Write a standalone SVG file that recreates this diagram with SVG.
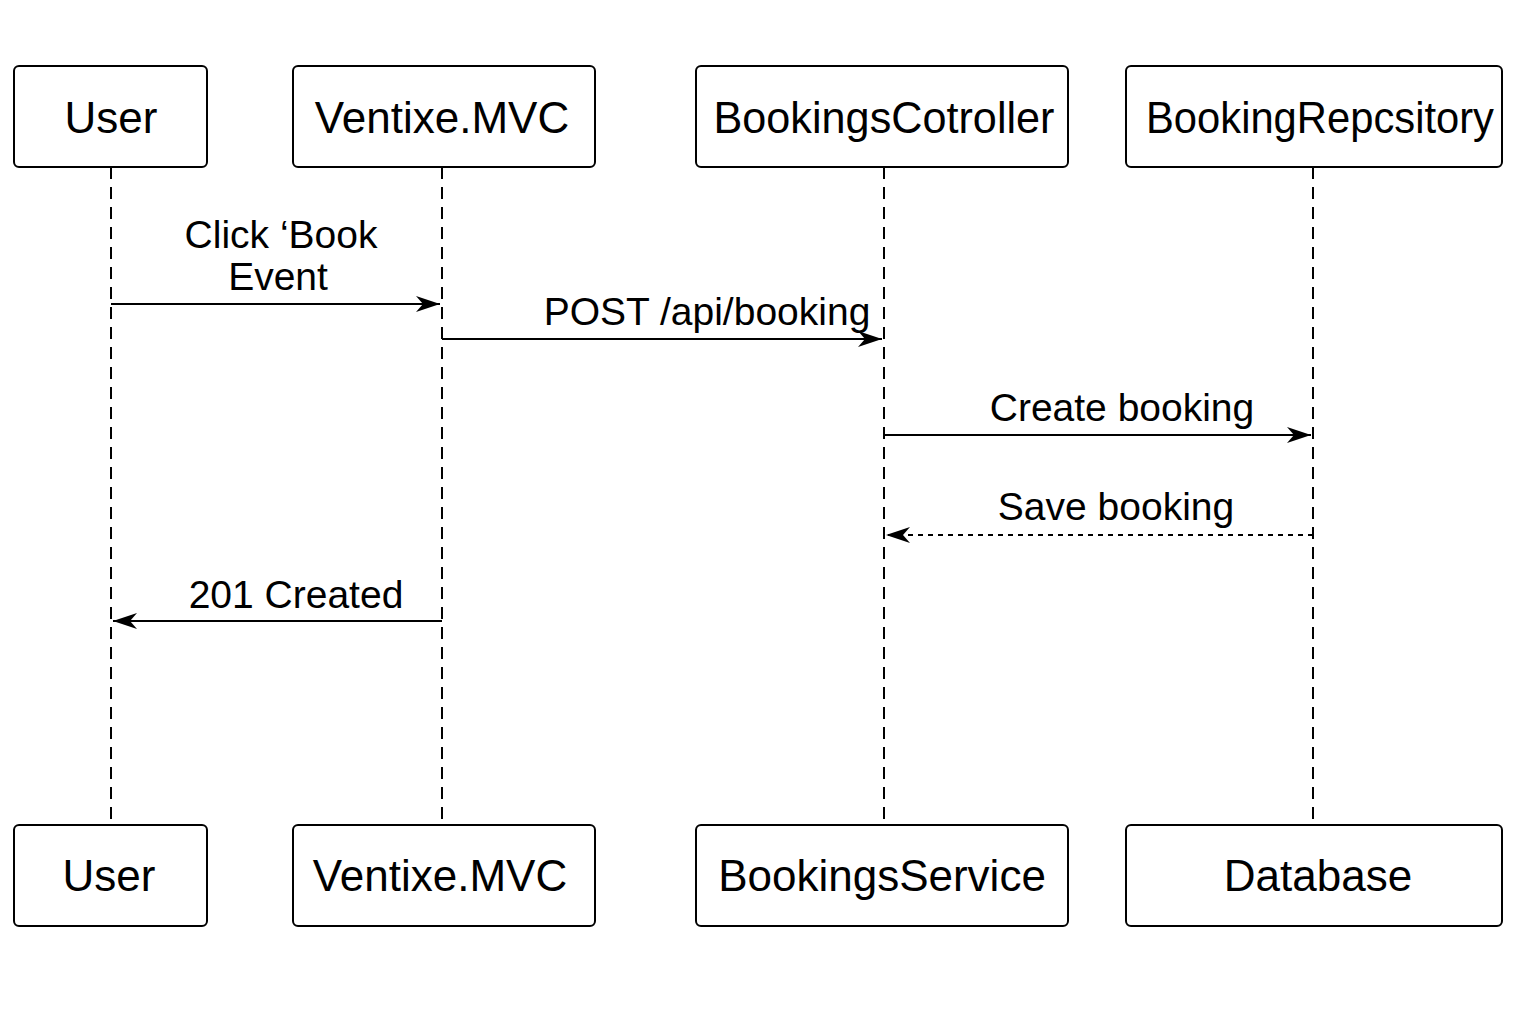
<svg xmlns="http://www.w3.org/2000/svg" width="1536" height="1024" viewBox="0 0 1536 1024">
<defs>
<style>
.box{fill:#fff;stroke:#000;stroke-width:2}
.lbl{font-family:"Liberation Sans",Arial,sans-serif;font-size:44px;fill:#000;text-anchor:middle}
.msg{font-family:"Liberation Sans",Arial,sans-serif;font-size:39px;fill:#000;text-anchor:middle}
.life{stroke:#000;stroke-width:2;stroke-dasharray:12 8;fill:none}
.arr{stroke:#000;stroke-width:2;fill:none}
.dot{stroke:#000;stroke-width:2;stroke-dasharray:5 5;fill:none}
</style>
<marker id="ah" viewBox="0 0 24 16" refX="24" refY="8" markerWidth="24" markerHeight="16" markerUnits="userSpaceOnUse" orient="auto">
<path d="M0,0 L24,8 L0,16 L7,8 Z" fill="#000"/>
</marker>
</defs>
<rect width="1536" height="1024" fill="#fff"/>
<g id="lifelines">
<line class="life" x1="111" y1="167" x2="111" y2="825"/>
<line class="life" x1="442" y1="167" x2="442" y2="825"/>
<line class="life" x1="884" y1="167" x2="884" y2="825"/>
<line class="life" x1="1313" y1="167" x2="1313" y2="825"/>
</g>
<g id="user-top"><rect class="box" x="14" y="66" width="193" height="101" rx="5"/><text class="lbl" x="111" y="133">User</text></g>
<g id="mvc-top"><rect class="box" x="293" y="66" width="302" height="101" rx="5"/><text class="lbl" x="442" y="133">Ventixe.MVC</text></g>
<g id="controller-top"><rect class="box" x="696" y="66" width="372" height="101" rx="5"/><text class="lbl" x="884" y="133" textLength="341" lengthAdjust="spacingAndGlyphs">BookingsCotroller</text></g>
<g id="repository-top"><rect class="box" x="1126" y="66" width="376" height="101" rx="5"/><text class="lbl" x="1320" y="133" textLength="348" lengthAdjust="spacingAndGlyphs">BookingRepcsitory</text></g>
<g id="user-bottom"><rect class="box" x="14" y="825" width="193" height="101" rx="5"/><text class="lbl" x="109" y="891">User</text></g>
<g id="mvc-bottom"><rect class="box" x="293" y="825" width="302" height="101" rx="5"/><text class="lbl" x="440" y="891">Ventixe.MVC</text></g>
<g id="service-bottom"><rect class="box" x="696" y="825" width="372" height="101" rx="5"/><text class="lbl" x="882" y="891">BookingsService</text></g>
<g id="database-bottom"><rect class="box" x="1126" y="825" width="376" height="101" rx="5"/><text class="lbl" x="1318" y="891">Database</text></g>
<g id="connectors">
<line class="arr" x1="111" y1="304" x2="440" y2="304" marker-end="url(#ah)"/>
<line class="arr" x1="442" y1="339" x2="882" y2="339" marker-end="url(#ah)"/>
<line class="arr" x1="884" y1="435" x2="1311" y2="435" marker-end="url(#ah)"/>
<line class="dot" x1="1313" y1="535" x2="886" y2="535" marker-end="url(#ah)"/>
<line class="arr" x1="442" y1="621" x2="113" y2="621" marker-end="url(#ah)"/>
<text class="msg" x="281" y="248">Click ‘Book</text>
<text class="msg" x="278" y="290">Event</text>
<text class="msg" x="707" y="325">POST /api/booking</text>
<text class="msg" x="1122" y="421">Create booking</text>
<text class="msg" x="1116" y="520">Save booking</text>
<text class="msg" x="296" y="608">201 Created</text>
</g>
</svg>
